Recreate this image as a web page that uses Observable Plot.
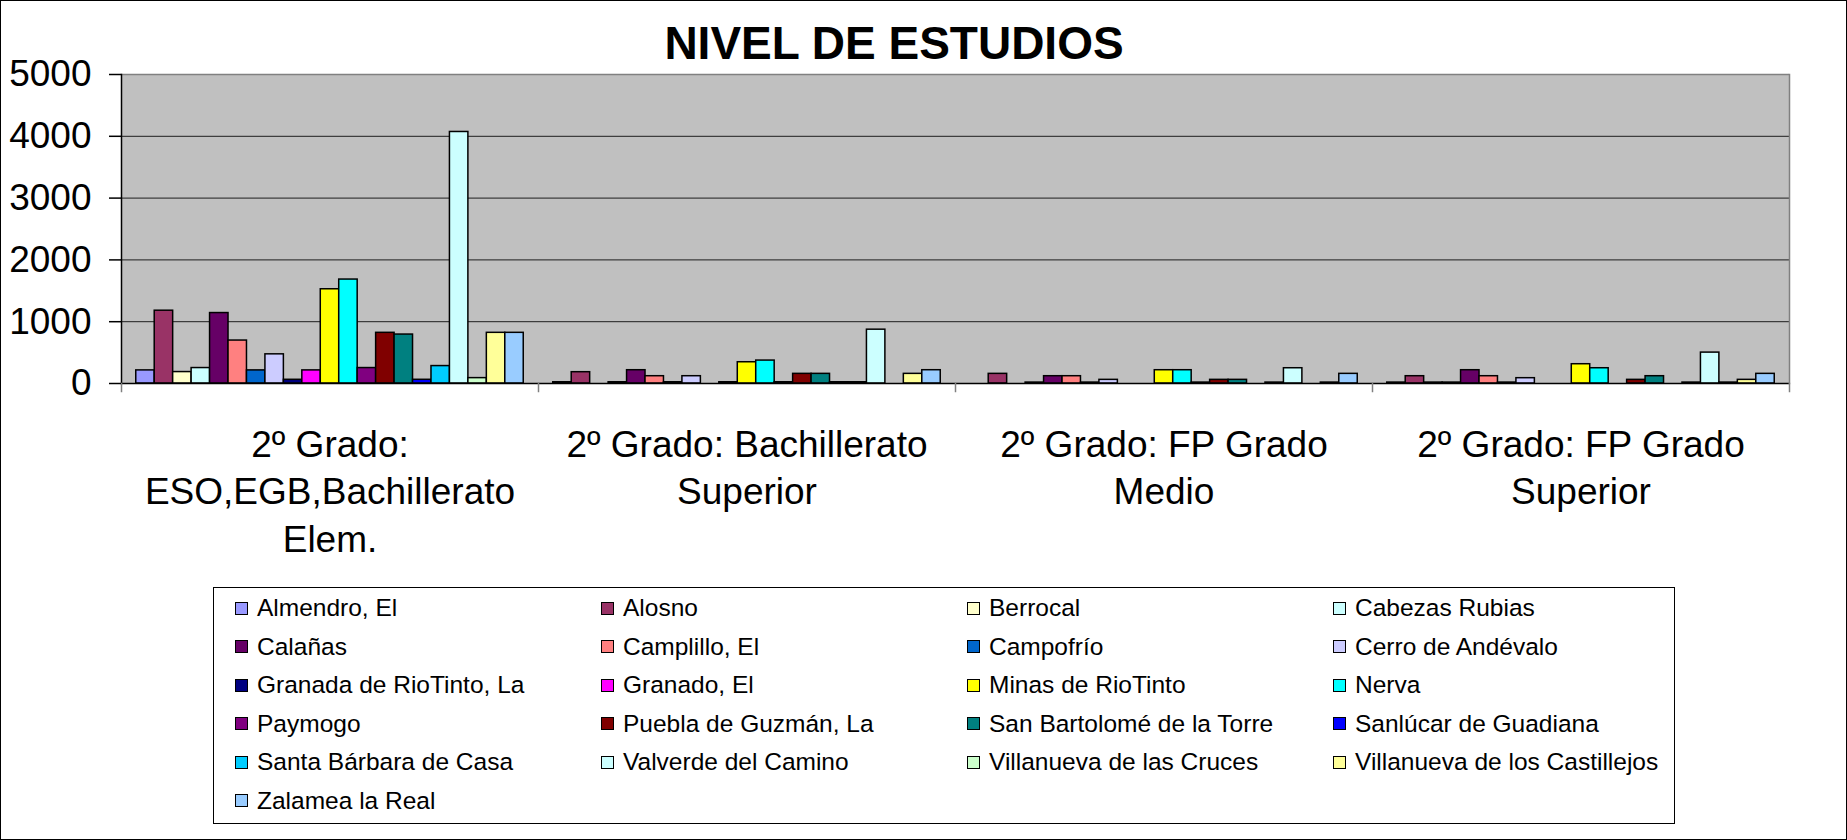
<!DOCTYPE html>
<html>
<head>
<meta charset="utf-8">
<script src="https://cdn.jsdelivr.net/npm/d3@7"></script>
<script src="https://cdn.jsdelivr.net/npm/@observablehq/plot@0.6"></script>
<style>
  html, body { margin: 0; padding: 0; background: #fff; }
  #chart { position: relative; width: 1847px; height: 840px; overflow: hidden; font-family: "Liberation Sans", Arial, sans-serif; color: #000; }
  #chart svg { position: absolute; left: 0; top: 0; }
  #border { position: absolute; left: 0; top: 0; width: 1847px; height: 840px; box-sizing: border-box; border: 1px solid #000; pointer-events: none; }
  #title { position: absolute; left: 394px; top: 20px; width: 1000px; text-align: center; font-weight: bold; font-size: 46px; line-height: 46px; white-space: nowrap; }
  #legend { position: absolute; left: 213px; top: 587px; width: 1462px; height: 237px; box-sizing: border-box; border: 1px solid #000; background: #fff; padding: 1px 0 0 21px; display: grid; grid-template-columns: repeat(4, 366px); grid-auto-rows: 38.5px; }
  .item { display: flex; align-items: center; font-size: 24.5px; white-space: nowrap; }
  .sw { width: 13px; height: 13px; box-sizing: border-box; border: 1px solid #000; margin-right: 9px; flex: none; }
</style>
</head>
<body>
<div id="chart">
  <div id="title"></div>
  <div id="legend"></div>
  <div id="border"></div>
</div>
<script>
const titulo = "NIVEL DE ESTUDIOS";

const categorias = [
  "2º Grado: ESO,EGB,Bachillerato Elem.",
  "2º Grado: Bachillerato Superior",
  "2º Grado: FP Grado Medio",
  "2º Grado: FP Grado Superior"
];
const etiquetasCategorias = [
  "2º Grado:\nESO,EGB,Bachillerato\nElem.",
  "2º Grado: Bachillerato\nSuperior",
  "2º Grado: FP Grado\nMedio",
  "2º Grado: FP Grado\nSuperior"
];

const municipios = [
  "Almendro, El", "Alosno", "Berrocal", "Cabezas Rubias",
  "Calañas", "Camplillo, El", "Campofrío", "Cerro de Andévalo",
  "Granada de RioTinto, La", "Granado, El", "Minas de RioTinto", "Nerva",
  "Paymogo", "Puebla de Guzmán, La", "San Bartolomé de la Torre", "Sanlúcar de Guadiana",
  "Santa Bárbara de Casa", "Valverde del Camino", "Villanueva de las Cruces", "Villanueva de los Castillejos",
  "Zalamea la Real"
];
const colores = [
  "#9999FF", "#993366", "#FFFFCC", "#CCFFFF",
  "#660066", "#FF8080", "#0066CC", "#CCCCFF",
  "#000080", "#FF00FF", "#FFFF00", "#00FFFF",
  "#800080", "#800000", "#008080", "#0000FF",
  "#00CCFF", "#CCFFFF", "#CCFFCC", "#FFFF99",
  "#99CCFF"
];

const valoresESO      = [212, 1178, 185, 250, 1140, 695, 212, 472, 60, 212, 1525, 1682, 250, 820, 792, 60, 282, 4070, 87, 820, 820];
const valoresBachSup  = [20, 183, 0, 20, 215, 118, 20, 118, 0, 20, 344, 371, 20, 156, 156, 20, 20, 871, 0, 156, 215];
const valoresFPMedio  = [0, 156, 0, 15, 118, 118, 15, 59, 0, 0, 215, 215, 15, 59, 59, 0, 15, 247, 0, 15, 156];
const valoresFPSup    = [15, 118, 15, 15, 215, 118, 15, 86, 0, 0, 312, 247, 0, 59, 118, 0, 15, 500, 15, 59, 156];
const valoresPorCategoria = [valoresESO, valoresBachSup, valoresFPMedio, valoresFPSup];

const ticksY = [0, 1000, 2000, 3000, 4000, 5000];
const ticksGrid = [1000, 2000, 3000, 4000];

const datos = [];
categorias.forEach((c, ci) => {
  municipios.forEach((m, mi) => {
    datos.push({categoria: c, municipio: m, valor: valoresPorCategoria[ci][mi]});
  });
});

const W = 1847, H = 840, mL = 120, mR = 57, mT = 74, mB = 457;
const plotH = H - mT - mB;

const chart = Plot.plot({
  width: W,
  height: H,
  marginLeft: mL,
  marginRight: mR,
  marginTop: mT,
  marginBottom: mB,
  style: {fontFamily: "'Liberation Sans', Arial, sans-serif", fontSize: "37px", color: "#000", background: "transparent", overflow: "visible"},
  fx: {domain: categorias, padding: 0, label: null, axis: null},
  x: {domain: municipios, paddingInner: 0, paddingOuter: 0.8, axis: null, round: false},
  y: {domain: [0, 5000], label: null, axis: null},
  color: {domain: municipios, range: colores},
  marks: [
    Plot.frame({fill: "#c0c0c0", stroke: "#c0c0c0"}),
    Plot.gridY(ticksGrid, {stroke: "#000", strokeOpacity: 0.85}),
    Plot.ruleY([5000], {stroke: "#808080", strokeWidth: 1.5}),
    Plot.barY(datos, {fx: "categoria", x: "municipio", y: "valor", fill: "municipio", stroke: "#000", strokeWidth: 1.5}),
    Plot.ruleY([0], {stroke: "#000", strokeWidth: 1.5}),
    Plot.frame({anchor: "left", facetAnchor: "left", stroke: "#000", strokeWidth: 1.5}),
    Plot.frame({anchor: "right", facetAnchor: "right", stroke: "#808080", strokeWidth: 1.5}),
    Plot.frame({anchor: "left", stroke: "#808080", strokeWidth: 1.5, insetTop: plotH, insetBottom: -8}),
    Plot.frame({anchor: "right", facetAnchor: "right", stroke: "#808080", strokeWidth: 1.5, insetTop: plotH, insetBottom: -8}),
    Plot.axisY({ticks: ticksY, tickFormat: d => String(d), tickSize: 12, tickPadding: 18, fontSize: 37, label: null, strokeWidth: 1.5}),
    Plot.axisFx({anchor: "bottom", tickSize: 0, tickPadding: 40, fontSize: 37, lineHeight: 1.28, label: null,
      tickFormat: c => etiquetasCategorias[categorias.indexOf(c)]})
  ]
});

const root = document.getElementById("chart");
root.insertBefore(chart, root.firstChild);

document.getElementById("title").textContent = titulo;

const legend = document.getElementById("legend");
municipios.forEach((m, i) => {
  const it = document.createElement("div");
  it.className = "item";
  const sw = document.createElement("span");
  sw.className = "sw";
  sw.style.background = colores[i];
  const tx = document.createElement("span");
  tx.textContent = m;
  it.appendChild(sw);
  it.appendChild(tx);
  legend.appendChild(it);
});
</script>
</body>
</html>
